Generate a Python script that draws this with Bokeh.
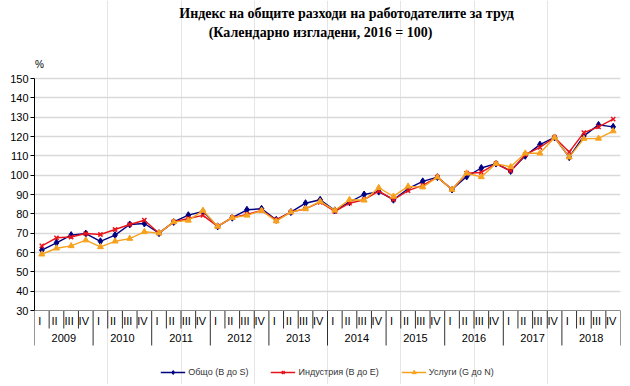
import numpy as np
from bokeh.plotting import figure
from bokeh.models import (Range1d, FixedTicker, LinearAxis, Grid, Span, Label,
                          Legend, LegendItem, ColumnDataSource)
from bokeh.core.properties import value
from bokeh.embed import file_html
from bokeh.resources import INLINE

# ---------------- data ----------------
title_line1 = "Индекс на общите разходи на работодателите за труд"
title_line2 = "(Календарно изгладени, 2016 = 100)"
unit_label = "%"
years = ["2009", "2010", "2011", "2012", "2013", "2014", "2015", "2016", "2017", "2018"]
quarters = ["I", "II", "III", "IV"]
series_names = ["Общо (B до S)", "Индустрия (B до E)", "Услуги (G до N)"]
y_ticks = [30, 40, 50, 60, 70, 80, 90, 100, 110, 120, 130, 140, 150]

total = [61.2, 65.0, 69.0, 69.8,
         65.8, 69.0, 74.5, 75.0,
         70.0, 75.8, 79.3, 81.2,
         73.5, 78.0, 82.1, 82.6,
         76.9, 80.9, 85.5, 87.3,
         81.8, 86.0, 90.0, 91.5,
         87.3, 93.0, 96.8, 99.0,
         92.6, 99.3, 103.7, 106.0,
         102.2, 110.0, 115.8, 119.5,
         109.3, 120.3, 126.0, 125.0]
industry = [63.4, 67.6, 68.0, 69.8,
            69.3, 71.9, 74.5, 76.7,
            70.0, 75.8, 77.6, 79.2,
            73.5, 78.0, 79.7, 81.7,
            76.9, 80.9, 82.6, 86.0,
            81.3, 85.5, 87.3, 91.7,
            87.3, 92.0, 94.7, 99.0,
            92.6, 101.0, 101.4, 106.0,
            102.2, 110.6, 114.4, 119.5,
            112.0, 122.0, 125.0, 129.0]
services = [59.1, 62.2, 63.4, 66.4,
            62.9, 65.8, 67.2, 70.7,
            70.0, 75.8, 76.6, 81.7,
            73.5, 78.0, 79.2, 81.7,
            76.2, 80.9, 82.6, 86.4,
            81.8, 87.3, 87.0, 93.5,
            89.0, 94.2, 93.8, 99.0,
            92.6, 101.0, 99.1, 106.0,
            104.3, 111.3, 111.3, 119.5,
            109.3, 118.9, 119.0, 122.8]

# ---------------- geometry ----------------
W, H = 630, 384
PX = 232.0 / 120.0            # pixels per y unit
TOP150 = 78                   # pixel row of the 150 gridline
Y_TOP = 150 + TOP150 / PX
Y_BOT = 150 - (H - TOP150) / PX
n = len(years) * len(quarters)
XPX = 586.0 / n               # pixels per quarter

def yv(pix):
    """data value of a pixel row"""
    return 150 + (TOP150 - pix) / PX

p = figure(width=W, height=H, x_range=Range1d(0, n), y_range=Range1d(Y_BOT, Y_TOP),
           output_backend="svg", toolbar_location=None,
           x_axis_location=None, y_axis_location=None,
           min_border_left=34, min_border_right=10, min_border_top=0, min_border_bottom=0)
p.outline_line_color = None
p.background_fill_color = "white"

yaxis = LinearAxis(ticker=FixedTicker(ticks=y_ticks), bounds=(y_ticks[0], y_ticks[-1]))
yaxis.axis_line_color = "#000000"
yaxis.major_tick_line_color = "#000000"
yaxis.major_tick_out = 4
yaxis.major_tick_in = 0
yaxis.minor_tick_line_color = None
yaxis.major_label_standoff = 2
yaxis.major_label_text_font = "Liberation Sans"
yaxis.major_label_text_font_size = "11px"
yaxis.major_label_text_color = "#000000"
p.add_layout(yaxis, "left")

p.add_layout(Grid(dimension=1, ticker=FixedTicker(ticks=y_ticks[1:]),
                  grid_line_color="#D9D9D9", grid_line_width=1.5))
p.add_layout(Span(location=y_ticks[0], dimension="width", line_color="#8C8C8C", line_width=1))

# category separators (quarter and year boundaries)
bounds = np.arange(0, n + 1)
q_b = [b for b in bounds if b % 4 != 0]
y_b = [b for b in bounds if b % 4 == 0]
base = y_ticks[0]
p.segment(x0=q_b, y0=base, x1=q_b, y1=base - 18 / PX, line_color="#303030", line_width=1)
p.segment(x0=y_b, y0=base, x1=y_b, y1=base - 35 / PX, line_color="#303030", line_width=1)

# category labels
xs = np.arange(n) + 0.5
q_labels = quarters * len(years)
p.text(x=xs, y=base - 10 / PX, text=q_labels, text_align="center", text_baseline="middle",
       text_font=value("Liberation Sans"), text_font_size="11px", text_color="#000000", x_offset=-2)
yr_x = np.arange(len(years)) * 4 + 2
p.text(x=yr_x, y=base - 27 / PX, text=years, text_align="center", text_baseline="middle",
       text_font=value("Liberation Sans"), text_font_size="11px", text_color="#000000")

# titles
p.add_layout(Label(x=(346 - 34) / XPX, y=yv(13), text=title_line1, text_align="center",
                   text_baseline="middle", text_font="Liberation Serif",
                   text_font_style="bold", text_font_size="14px", text_color="#000000"))
p.add_layout(Label(x=(320 - 34) / XPX, y=yv(31.5), text=title_line2, text_align="center",
                   text_baseline="middle", text_font="Liberation Serif",
                   text_font_style="bold", text_font_size="14px", text_color="#000000"))
p.add_layout(Label(x=(39 - 34) / XPX, y=yv(64), text=unit_label, text_align="center",
                   text_baseline="middle", text_font="Liberation Sans",
                   text_font_size="10px", text_color="#000000"))

# series
src = ColumnDataSource(dict(x=xs, total=total, industry=industry, services=services))
c_tot, c_ind, c_srv = "#000080", "#E8141B", "#F7A21E"
l1 = p.line("x", "total", source=src, line_color=c_tot, line_width=1.4)
m1 = p.scatter("x", "total", source=src, marker="diamond", size=7, fill_color=c_tot, line_color=c_tot)
l2 = p.line("x", "industry", source=src, line_color=c_ind, line_width=1.4)
m2 = p.scatter("x", "industry", source=src, marker="x", size=6, line_color=c_ind, line_width=1.5)
l3 = p.line("x", "services", source=src, line_color=c_srv, line_width=1.4)
m3 = p.scatter("x", "services", source=src, marker="triangle", size=6, fill_color=c_srv, line_color=c_srv)

legend = Legend(items=[LegendItem(label=series_names[0], renderers=[l1, m1]),
                       LegendItem(label=series_names[1], renderers=[l2, m2]),
                       LegendItem(label=series_names[2], renderers=[l3, m3])],
                location="bottom_center", orientation="horizontal",
                label_text_font="Liberation Sans", label_text_font_size="9px",
                label_text_color="#333333", glyph_width=25, glyph_height=10,
                label_standoff=3, spacing=22, padding=1, margin=7,
                border_line_color=None, background_fill_alpha=0)
p.add_layout(legend)

open("out.html", "w").write(file_html(p, INLINE))
